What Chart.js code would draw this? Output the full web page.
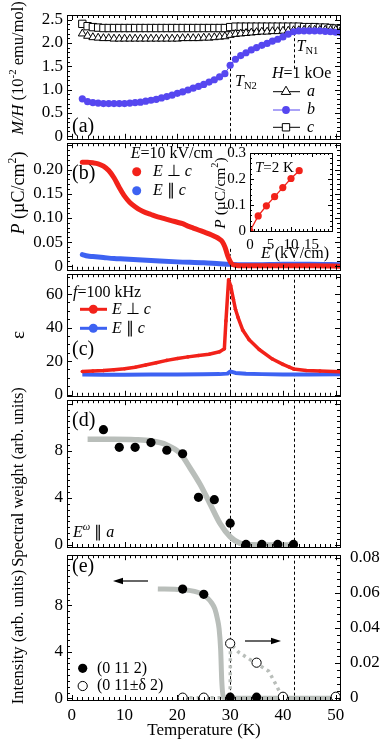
<!DOCTYPE html>
<html>
<head>
<meta charset="utf-8">
<script src="https://cdn.jsdelivr.net/npm/chart.js@4.4.1/dist/chart.umd.min.js"></script>
<style>
body { margin: 0; background: #fff; }
#fig { position: relative; width: 381px; height: 741px; overflow: hidden; background: #fff; }
canvas { position: absolute; }
</style>
</head>
<body>
<div id="fig">
  <canvas id="pa" width="381" height="153" style="left:0;top:0"></canvas>
  <canvas id="pb" width="381" height="155" style="left:0;top:129px"></canvas>
  <canvas id="pi" width="150" height="130" style="left:190px;top:140px"></canvas>
  <canvas id="pc" width="381" height="150" style="left:0;top:260px"></canvas>
  <canvas id="pd" width="381" height="191" style="left:0;top:386px"></canvas>
  <canvas id="pe" width="381" height="206" style="left:0;top:535px"></canvas>
</div>
<script>
// values

// (a) M/H vs T, H = 1 kOe
const tempA = [2,3,4,5,6,7,8,9,10,11,12,13,14,15,16,17,18,19,20,21,22,23,24,25,26,
               27,28,29,30,31,32,33,34,35,36,37,38,39,40,41,42,43,44,45,46,47,48,49,50,51];
const mhA = [2.20,2.15,2.12,2.11,2.10,2.10,2.09,2.09,2.09,2.09,2.09,2.09,2.09,2.09,2.09,2.09,2.09,2.09,2.09,2.10,2.10,2.10,2.10,2.11,2.11,
             2.12,2.13,2.14,2.17,2.19,2.20,2.21,2.22,2.23,2.24,2.24,2.25,2.25,2.26,2.26,2.27,2.27,2.28,2.28,2.28,2.28,2.28,2.28,2.28,2.28];
const mhB = [0.80,0.74,0.72,0.71,0.70,0.70,0.70,0.70,0.70,0.71,0.72,0.73,0.75,0.77,0.79,0.82,0.85,0.88,0.92,0.95,0.99,1.03,1.07,1.11,1.16,
             1.21,1.27,1.34,1.52,1.65,1.73,1.79,1.85,1.90,1.95,1.99,2.04,2.08,2.13,2.19,2.24,2.26,2.26,2.26,2.26,2.26,2.25,2.24,2.23,2.22];
const mhC = [2.41,2.36,2.34,2.33,2.32,2.32,2.32,2.32,2.32,2.32,2.32,2.32,2.32,2.32,2.32,2.32,2.32,2.32,2.32,2.32,2.32,2.32,2.32,2.32,2.32,
             2.32,2.32,2.32,2.34,2.35,2.35,2.35,2.35,2.35,2.35,2.35,2.35,2.35,2.35,2.35,2.35,2.35,2.34,2.34,2.34,2.33,2.33,2.32,2.31,2.30];

// (b) polarization, E = 10 kV/cm
const tempPRed = [2,3,4,5,6,7,8,9,10,11,12,13,14,15,16,17,18,19,20,21,22,23,24,25,26,27,28,
                  28.5,29,29.3,29.6,30,30.3,30.6,31,32,34,38,42,46,51];
const pRed = [0.215,0.215,0.214,0.212,0.207,0.198,0.183,0.163,0.145,0.132,0.123,0.116,0.111,0.107,0.103,0.100,0.097,0.094,0.091,0.088,0.083,0.079,0.075,0.071,0.067,0.062,0.056,
              0.051,0.040,0.030,0.020,0.010,0.005,0.003,0.002,0.001,0.001,0.001,0.001,0.001,0.000];
const tempPBlue = [2,3,4,6,8,10,15,20,25,28,30,32,35,40,45,51];
const pBlue = [0.024,0.021,0.020,0.018,0.016,0.015,0.012,0.009,0.007,0.005,0.004,0.003,0.003,0.004,0.004,0.003];

// (b) inset, T = 2 K
const fieldInset = [0,2,4,6,8,10,12];
const pInset = [0,0.058,0.097,0.132,0.167,0.202,0.232];

// (c) dielectric constant, f = 100 kHz
const tempEpsRed = [2,4,6,8,10,12,14,16,18,20,22,24,26,28,28.9,29.2,29.7,30.1,30.6,31.0,31.5,32.4,33.6,35.5,38,40,41.2,42,44.4,47,51];
const epsRed = [13.8,14.0,14.3,14.8,15.4,16.3,17.6,19.0,20.4,21.5,22.5,23.3,24.1,25.6,27.3,44,68.5,65,57,51,46,38.4,32.7,26.9,21.2,18.0,16.4,15.3,14.4,14.0,13.6];
const tempEpsBlue = [2,6,10,15,20,25,28,29.5,30,30.5,31,33,36,40,45,51];
const epsBlue = [12.0,11.9,11.9,12.0,12.0,12.1,12.2,12.5,13.8,13.4,12.9,12.4,12.2,12.0,12.0,12.1];

// (d) spectral weight
const tempSW = [6,9,12,15,18,21,24,27,30,33,36,39,42];
const swData = [9.8,8.3,8.3,8.7,8.05,7.75,4.05,3.85,1.85,0.05,0.05,0.05,0.05];
const tempSWFit = [3,8,12,15,18,20.5,22.4,24.3,26.2,28.1,30,31.9,34,38,42];
const swFit = [8.98,8.98,8.95,8.85,8.5,7.8,6.55,5.16,3.49,1.82,0.7,0.14,0.02,0,0];

// (e) neutron intensities
const tempInt = [21,25,30,35];
const int0112 = [9.4,8.95,0.1,0.1];
const tempIntD = [21,25,30,35,40,50];
const intDelta = [0,0,0.031,0.020,0.0005,0.0005];
const tempIntFit = [16.3,20,22,24,25.5,26.5,27.1,27.6,27.9,28.2,28.4,28.7,29.5,50.5];
const intFit = [9.4,9.37,9.3,9.1,8.7,8.2,7.7,6.8,6.0,4.2,1.6,0.1,0,0];
const tempDeltaFit = [21,30,30.05,31.6,33.5,35,37.3,38.6,39.5,40];
const deltaFit = [0,0,0.031,0.026,0.0223,0.0195,0.0151,0.0079,0.0025,0];

// tick labels
const xTickVals = [0,10,20,30,40,50];
const yTicksA = [0,0.5,1,1.5,2,2.5];
const yTicksB = [0,0.05,0.1,0.15,0.2];
const yTicksC = [0,20,40,60];
const yTicksD = [0,4,8];
const yTicksE = [0,4,8];
const yTicksE2 = [0,0.02,0.04,0.06,0.08];
const xTicksInset = [0,5,10,15];
const yTicksInset = [0,0.1,0.2,0.3];

const FONT = '"Liberation Serif","Times New Roman",serif';
const RED = '#f2221a';
const BLUE = '#3d62f2';
const PURPLE = '#5647f0';
const GREY = '#b9beba';

Chart.defaults.font.family = FONT;
Chart.defaults.color = '#000';

const xy = (xs, ys) => xs.map((x, i) => ({x: x, y: ys[i]}));
const f0 = v => String(v);
const f1 = v => v === 0 ? '0' : v.toFixed(1);
const f2 = v => v === 0 ? '0' : v.toFixed(2);

function xScale(show, min, max, ticks, size, height) {
  const s = {
    type: 'linear', min: min, max: max, display: show,
    grid: {display: false, drawTicks: false}, border: {display: false},
    afterBuildTicks: sc => { sc.ticks = ticks.map(v => ({value: v})); },
    ticks: {padding: 5, font: {size: size}, color: '#000', maxRotation: 0, autoSkip: false}
  };
  if (show) s.afterFit = sc => { sc.height = height; };
  return s;
}

function yScale(min, max, ticks, fmt, width, pos, size) {
  return {
    type: 'linear', position: pos || 'left', min: min, max: max,
    grid: {display: false, drawTicks: false}, border: {display: false},
    afterBuildTicks: sc => { sc.ticks = ticks.map(v => ({value: v})); },
    ticks: {padding: pos === 'right' ? 10 : 4, font: {size: size || 17}, color: '#000',
            autoSkip: false, callback: v => fmt(v)},
    afterFit: sc => { sc.width = width; }
  };
}

function seq(min, max, step) {
  const out = [];
  for (let n = Math.ceil(min / step - 1e-9); n * step <= max + 1e-9; n++) out.push(n * step);
  return out;
}
const isMajor = (v, step) => Math.abs(v / step - Math.round(v / step)) < 1e-6;

function rich(ctx, it) {
  const size = it.size || 16;
  const segs = it.parts.map(p => {
    const f = p[1] || '';
    const small = f.includes('u') || f.includes('d');
    const font = (f.includes('i') ? 'italic ' : '') + (small ? size * 0.66 : size) + 'px ' + FONT;
    ctx.font = font;
    return {t: p[0], font: font, w: ctx.measureText(p[0]).width,
            dy: f.includes('u') ? -size * 0.36 : f.includes('d') ? size * 0.28 : 0};
  });
  const total = segs.reduce((s, g) => s + g.w, 0);
  ctx.save();
  ctx.translate(it.x, it.y);
  if (it.rot) ctx.rotate(it.rot * Math.PI / 180);
  let cx = it.align === 'center' ? -total / 2 : it.align === 'right' ? -total : 0;
  ctx.fillStyle = '#000';
  ctx.textBaseline = 'middle';
  ctx.textAlign = 'left';
  for (const g of segs) { ctx.font = g.font; ctx.fillText(g.t, cx, g.dy); cx += g.w; }
  ctx.restore();
}

function marker(ctx, m) {
  if (m.line) {
    ctx.beginPath();
    ctx.strokeStyle = m.lineColor; ctx.lineWidth = m.lineWidth || 1;
    ctx.moveTo(m.line[0], m.y); ctx.lineTo(m.line[1], m.y); ctx.stroke();
  }
  ctx.beginPath();
  const r = m.r;
  if (m.style === 'triangle') {
    for (let k = 0; k < 3; k++) {
      const a = k * 2 * Math.PI / 3;
      const px = m.x + Math.sin(a) * r, py = m.y - Math.cos(a) * r;
      if (k === 0) ctx.moveTo(px, py); else ctx.lineTo(px, py);
    }
    ctx.closePath();
  } else if (m.style === 'rect') {
    const s = r * Math.SQRT1_2;
    ctx.rect(m.x - s, m.y - s, 2 * s, 2 * s);
  } else {
    ctx.arc(m.x, m.y, r, 0, 2 * Math.PI);
  }
  ctx.fillStyle = m.fill; ctx.fill();
  if (m.stroke) { ctx.strokeStyle = m.stroke; ctx.lineWidth = 1; ctx.stroke(); }
}

function arrow(ctx, a) {
  const dir = Math.sign(a.x2 - a.x1);
  ctx.strokeStyle = '#000'; ctx.fillStyle = '#000'; ctx.lineWidth = 1.2;
  ctx.beginPath(); ctx.moveTo(a.x1, a.y1); ctx.lineTo(a.x2 - dir * 6, a.y2); ctx.stroke();
  ctx.beginPath();
  ctx.moveTo(a.x2, a.y2);
  ctx.lineTo(a.x2 - dir * 10, a.y2 - 3.2);
  ctx.lineTo(a.x2 - dir * 10, a.y2 + 3.2);
  ctx.closePath(); ctx.fill();
}

// frame with inward ticks, dashed transition lines, in-plot text
function panelPlugin(cfg) {
  return {
    id: 'panel_' + cfg.name,
    beforeDatasetsDraw(chart) {
      const ctx = chart.ctx, a = chart.chartArea, xs = chart.scales.x, ys = chart.scales.y;
      ctx.save();
      if (cfg.whiteBg) {
        ctx.fillStyle = '#fff';
        ctx.fillRect(a.left, a.top, a.right - a.left, a.bottom - a.top);
      }
      ctx.strokeStyle = '#000'; ctx.lineWidth = 1; ctx.setLineDash([3, 2.5]);
      for (const d of cfg.dashes || []) {
        const px = Math.round(xs.getPixelForValue(d.x)) + 0.5;
        const y1 = d.from == null ? a.top : ys.getPixelForValue(d.from);
        const y2 = d.to == null ? a.bottom : ys.getPixelForValue(d.to);
        ctx.beginPath(); ctx.moveTo(px, y1); ctx.lineTo(px, y2); ctx.stroke();
      }
      ctx.restore();
    },
    afterDatasetsDraw(chart) {
      const ctx = chart.ctx, a = chart.chartArea, xs = chart.scales.x, ys = chart.scales.y;
      const ys2 = chart.scales.y2;
      const L = cfg.tickLen || 5, l = cfg.minorLen || 3;
      ctx.save();
      ctx.strokeStyle = '#000'; ctx.lineWidth = 1; ctx.setLineDash([]);
      const seg = (x1, y1, x2, y2) => { ctx.beginPath(); ctx.moveTo(x1, y1); ctx.lineTo(x2, y2); ctx.stroke(); };
      for (const v of seq(xs.min, xs.max, cfg.xMinor)) {
        const p = Math.round(xs.getPixelForValue(v)) + 0.5;
        const len = isMajor(v, cfg.xMajor) ? L : l;
        seg(p, a.bottom, p, a.bottom - len);
        seg(p, a.top, p, a.top + len);
      }
      for (const v of seq(ys.min, ys.max, cfg.yMinor)) {
        const p = Math.round(ys.getPixelForValue(v)) + 0.5;
        const len = isMajor(v, cfg.yMajor) ? L : l;
        seg(a.left, p, a.left + len, p);
        if (!ys2) seg(a.right, p, a.right - len, p);
      }
      if (ys2) {
        for (const v of seq(ys2.min, ys2.max, cfg.y2Minor)) {
          const p = Math.round(ys2.getPixelForValue(v)) + 0.5;
          const len = isMajor(v, cfg.y2Major) ? L : l;
          seg(a.right, p, a.right - len, p);
        }
      }
      ctx.strokeRect(Math.round(a.left) + 0.5, Math.round(a.top) + 0.5,
                     Math.round(a.right - a.left), Math.round(a.bottom - a.top));
      ctx.restore();
    },
    afterDraw(chart) {
      const ctx = chart.ctx;
      ctx.save();
      ctx.translate(-cfg.ox, -cfg.oy);
      for (const m of cfg.marks || []) marker(ctx, m);
      for (const ar of cfg.arrows || []) arrow(ctx, ar);
      for (const t of cfg.texts || []) rich(ctx, t);
      ctx.restore();
    }
  };
}

function baseOptions(scales, pad) {
  return {
    responsive: false, animation: false, events: [],
    layout: {padding: pad},
    plugins: {legend: {display: false}, tooltip: {enabled: false}},
    scales: scales
  };
}

const X_MIN = -0.9, X_MAX = 50.8;

// ---------- (a) ----------
new Chart(document.getElementById('pa'), {
  type: 'line',
  data: {datasets: [
    {data: xy(tempA, mhB), borderColor: PURPLE, backgroundColor: PURPLE, borderWidth: 1,
     pointRadius: 3.6, pointBorderWidth: 0, pointBackgroundColor: PURPLE},
    {data: xy(tempA, mhA), borderColor: '#000', borderWidth: 1, pointStyle: 'triangle', pointRadius: 4.6,
     pointBackgroundColor: '#fff', pointBorderColor: '#000', pointBorderWidth: 1},
    {data: xy(tempA, mhC), borderColor: '#000', borderWidth: 1, pointStyle: 'rect', pointRadius: 5.2,
     pointBackgroundColor: '#fff', pointBorderColor: '#000', pointBorderWidth: 1}
  ]},
  options: baseOptions({
    x: xScale(false, X_MIN, X_MAX, xTickVals),
    y: yScale(-0.057, 2.60, yTicksA, f1, 67)
  }, {top: 15, bottom: 12, left: 0, right: 41}),
  plugins: [panelPlugin({
    name: 'a', ox: 0, oy: 0, xMinor: 1, xMajor: 10, yMinor: 0.1, yMajor: 0.5,
    dashes: [{x: 30, from: 2.17}, {x: 42, from: 2.22, to: 1.45}],
    marks: [
      {x: 286, y: 91.7, style: 'triangle', r: 5.5, fill: '#fff', stroke: '#000', line: [273, 300], lineColor: '#000'},
      {x: 286, y: 110, style: 'circle', r: 3.9, fill: PURPLE, line: [273, 300], lineColor: PURPLE},
      {x: 286, y: 127.3, style: 'rect', r: 5.2, fill: '#fff', stroke: '#000', line: [273, 300], lineColor: '#000'}
    ],
    texts: [
      {x: 19, y: 68, rot: -90, align: 'center', size: 16.5,
       parts: [['M/H', 'i'], [' (10'], ['-2', 'u'], [' emu/mol)']]},
      {x: 235, y: 82, size: 16, parts: [['T', 'i'], ['N2', 'd']]},
      {x: 296.5, y: 47, size: 16, parts: [['T', 'i'], ['N1', 'd']]},
      {x: 272, y: 74, size: 16, parts: [['H', 'i'], ['=1 kOe']]},
      {x: 307, y: 91.7, size: 16, parts: [['a', 'i']]},
      {x: 307, y: 110, size: 16, parts: [['b', 'i']]},
      {x: 307, y: 127.3, size: 16, parts: [['c', 'i']]},
      {x: 72, y: 127, size: 20, parts: [['(a)']]}
    ]
  })]
});

// ---------- (b) ----------
new Chart(document.getElementById('pb'), {
  type: 'line',
  data: {datasets: [
    {data: xy(tempPRed, pRed), borderColor: RED, borderWidth: 5, pointRadius: 0,
     cubicInterpolationMode: 'monotone', borderCapStyle: 'round', borderJoinStyle: 'round'},
    {data: xy(tempPBlue, pBlue), borderColor: BLUE, borderWidth: 5, pointRadius: 0,
     cubicInterpolationMode: 'monotone', borderCapStyle: 'round', borderJoinStyle: 'round'}
  ]},
  options: baseOptions({
    x: xScale(false, X_MIN, X_MAX, xTickVals),
    y: yScale(-0.0074, 0.2546, yTicksB, f2, 67)
  }, {top: 12, bottom: 12, left: 0, right: 41}),
  plugins: [panelPlugin({
    name: 'b', ox: 0, oy: 129, xMinor: 1, xMajor: 10, yMinor: 0.01, yMajor: 0.05,
    dashes: [{x: 30, from: 0.036, to: 0.022}, {x: 42, from: 0.024, to: 0.012}],
    marks: [
      {x: 136.7, y: 171.7, style: 'circle', r: 4.5, fill: RED},
      {x: 136.7, y: 190.7, style: 'circle', r: 4.5, fill: BLUE}
    ],
    texts: [
      {x: 19, y: 193, rot: -90, align: 'center', size: 18,
       parts: [['P', 'i'], [' (\u00b5C/cm'], ['2', 'u'], [')']]},
      {x: 213, y: 154, align: 'right', size: 16, parts: [['E', 'i'], ['=10 kV/cm']]},
      {x: 153, y: 171.7, size: 16, parts: [['E', 'i'], [' \u22a5 '], ['c', 'i']]},
      {x: 153, y: 190.7, size: 16, parts: [['E', 'i'], [' \u2225 '], ['c', 'i']]},
      {x: 72, y: 174, size: 20, parts: [['(b)']]}
    ]
  })]
});

// ---------- (b) inset ----------
new Chart(document.getElementById('pi'), {
  type: 'line',
  data: {datasets: [
    {data: xy(fieldInset, pInset), borderColor: RED, borderWidth: 1.3, pointRadius: 3.6,
     pointBackgroundColor: RED, pointBorderWidth: 0}
  ]},
  options: baseOptions({
    x: xScale(true, 0, 20, xTicksInset, 15, 39),
    y: yScale(0, 0.3, yTicksInset, f1, 60, 'left', 15)
  }, {top: 13, bottom: 0, left: 0, right: 8}),
  plugins: [panelPlugin({
    name: 'inset', ox: 190, oy: 140, whiteBg: true, tickLen: 4, minorLen: 2,
    xMinor: 1, xMajor: 5, yMinor: 0.02, yMajor: 0.1,
    texts: [
      {x: 221, y: 193, rot: -90, align: 'center', size: 15.5,
       parts: [['P', 'i'], [' (\u00b5C/cm'], ['2', 'u'], [')']]},
      {x: 295, y: 254, align: 'center', size: 16, parts: [['E', 'i'], [' (kV/cm)']]},
      {x: 255, y: 168, size: 15, parts: [['T', 'i'], ['=2 K']]}
    ]
  })]
});

// ---------- (c) ----------
new Chart(document.getElementById('pc'), {
  type: 'line',
  data: {datasets: [
    {data: xy(tempEpsRed, epsRed), borderColor: RED, borderWidth: 3.5, pointRadius: 1.8,
     pointBackgroundColor: RED, pointBorderWidth: 0, borderJoinStyle: 'round'},
    {data: xy(tempEpsBlue, epsBlue), borderColor: BLUE, borderWidth: 4, pointRadius: 0,
     borderJoinStyle: 'round'}
  ]},
  options: baseOptions({
    x: xScale(false, X_MIN, X_MAX, xTickVals),
    y: yScale(-0.75, 71.9, yTicksC, f0, 67)
  }, {top: 12, bottom: 12, left: 0, right: 41}),
  plugins: [panelPlugin({
    name: 'c', ox: 0, oy: 260, xMinor: 1, xMajor: 10, yMinor: 5, yMajor: 20,
    dashes: [{x: 30}, {x: 42}],
    marks: [
      {x: 93.3, y: 309.3, style: 'circle', r: 4.5, fill: RED, line: [80, 107], lineColor: RED, lineWidth: 3},
      {x: 93.3, y: 328.3, style: 'circle', r: 4.5, fill: BLUE, line: [80, 107], lineColor: BLUE, lineWidth: 3}
    ],
    texts: [
      {x: 19, y: 335, rot: -90, align: 'center', size: 19, parts: [['\u03b5']]},
      {x: 73, y: 293, size: 16, parts: [['f', 'i'], ['=100 kHz']]},
      {x: 112, y: 309.3, size: 16, parts: [['E', 'i'], [' \u22a5 '], ['c', 'i']]},
      {x: 112, y: 328.3, size: 16, parts: [['E', 'i'], [' \u2225 '], ['c', 'i']]},
      {x: 72, y: 350, size: 20, parts: [['(c)']]}
    ]
  })]
});

// ---------- (d) ----------
new Chart(document.getElementById('pd'), {
  type: 'line',
  data: {datasets: [
    {data: xy(tempSW, swData), showLine: false, pointRadius: 4.6, pointBackgroundColor: '#000',
     pointBorderWidth: 0},
    {data: xy(tempSWFit, swFit), borderColor: GREY, borderWidth: 5.5, pointRadius: 0,
     cubicInterpolationMode: 'monotone'}
  ]},
  options: baseOptions({
    x: xScale(false, X_MIN, X_MAX, xTickVals),
    y: yScale(-0.17, 12.3, yTicksD, f0, 67)
  }, {top: 12, bottom: 30, left: 0, right: 41}),
  plugins: [panelPlugin({
    name: 'd', ox: 0, oy: 386, xMinor: 1, xMajor: 10, yMinor: 0.5, yMajor: 4,
    dashes: [{x: 30}, {x: 42}],
    texts: [
      {x: 19, y: 477, rot: -90, align: 'center', size: 16.5, parts: [['Spectral weight (arb. units)']]},
      {x: 72, y: 421, size: 20, parts: [['(d)']]},
      {x: 73, y: 533, size: 16, parts: [['E', 'i'], ['\u03c9', 'ui'], [' \u2225 '], ['a', 'i']]}
    ]
  })]
});

// ---------- (e) ----------
new Chart(document.getElementById('pe'), {
  type: 'line',
  data: {datasets: [
    {data: xy(tempInt, int0112), yAxisID: 'y', showLine: false, pointRadius: 4.6,
     pointBackgroundColor: '#000', pointBorderWidth: 0},
    {data: xy(tempIntD, intDelta), yAxisID: 'y2', showLine: false, pointRadius: 4.6,
     pointBackgroundColor: '#fff', pointBorderColor: '#000', pointBorderWidth: 1},
    {data: xy(tempIntFit, intFit), yAxisID: 'y', borderColor: GREY, borderWidth: 5, pointRadius: 0,
     cubicInterpolationMode: 'monotone'},
    {data: xy(tempDeltaFit, deltaFit), yAxisID: 'y2', borderColor: GREY, borderWidth: 3.5, pointRadius: 0,
     borderDash: [3, 4], tension: 0}
  ]},
  options: baseOptions({
    x: xScale(true, X_MIN, X_MAX, xTickVals, 17, 41),
    y: yScale(-0.14, 12.31, yTicksE, f0, 67),
    y2: yScale(-0.00135, 0.0815, yTicksE2, f2, 41, 'right')
  }, {top: 12, bottom: 0, left: 0, right: 0}),
  plugins: [panelPlugin({
    name: 'e', ox: 0, oy: 535, xMinor: 1, xMajor: 10, yMinor: 0.5, yMajor: 4,
    y2Minor: 0.004, y2Major: 0.02,
    dashes: [{x: 30}, {x: 42}],
    marks: [
      {x: 82.7, y: 668.3, style: 'circle', r: 4.6, fill: '#000'},
      {x: 82.7, y: 686, style: 'circle', r: 4.6, fill: '#fff', stroke: '#000'}
    ],
    arrows: [{x1: 148, y1: 581, x2: 113, y2: 581}, {x1: 245, y1: 641, x2: 281, y2: 641}],
    texts: [
      {x: 19, y: 637, rot: -90, align: 'center', size: 16.5, parts: [['Intensity (arb. units)']]},
      {x: 72, y: 567, size: 20, parts: [['(e)']]},
      {x: 97, y: 668.3, size: 16, parts: [['(0 11 2)']]},
      {x: 97, y: 686, size: 16, parts: [['(0 11\u00b1\u03b4 2)']]},
      {x: 204, y: 731, align: 'center', size: 17, parts: [['Temperature (K)']]}
    ]
  })]
});
</script>
</body>
</html>
